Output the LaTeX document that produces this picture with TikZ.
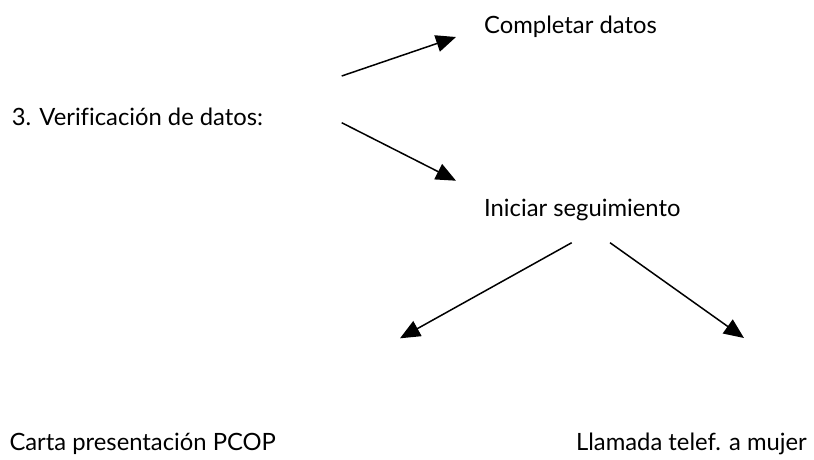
\documentclass[tikz,border=0pt]{standalone}
\usepackage{fontspec}
\setmainfont{Lato}[Ligatures=NoCommon]
\usetikzlibrary{arrows.meta}

\begin{document}
\begin{tikzpicture}[x=1pt, y=-1pt,
		lbl/.style={anchor=base west, inner sep=0pt, font=\fontsize{23.8}{29}\selectfont},
		arw/.style={line width=1.5pt, -{Triangle[length=20pt,width=17pt]}}]
			%%%%% START %%%%%
			
			\useasboundingbox (0, 0) rectangle (814, 459);
			
			\node[lbl] (verif) at (11.7, 125) {3. Verificación de datos:};
			\node[lbl] (completar) at (484, 33.3) {Completar datos};
			\node[lbl] (iniciar) at (484, 216.7) {Iniciar seguimiento};
			\node[lbl] (carta) at (9.3, 450) {Carta presentación PCOP};
			\node[lbl, anchor=base east] (llamada) at (807, 450) {Llamada telef. a mujer};
			
			\coordinate (verifA) at (341.7, 76);
			\coordinate (verifB) at (341.7, 122.7);
			\coordinate (completarT) at (456, 37);
			\coordinate (iniciarT) at (456, 180.7);
			
			\coordinate (iniciarA) at (571.7, 242.7);
			\coordinate (iniciarB) at (610, 242.7);
			\coordinate (cartaT) at (400, 338.3);
			\coordinate (llamadaT) at (744, 338);
			
			\draw[arw] (verifA) -- (completarT);
			\draw[arw] (verifB) -- (iniciarT);
			\draw[arw] (iniciarA) -- (cartaT);
			\draw[arw] (iniciarB) -- (llamadaT);
			
			%%%%% END %%%%%
		\end{tikzpicture}
\end{document}
